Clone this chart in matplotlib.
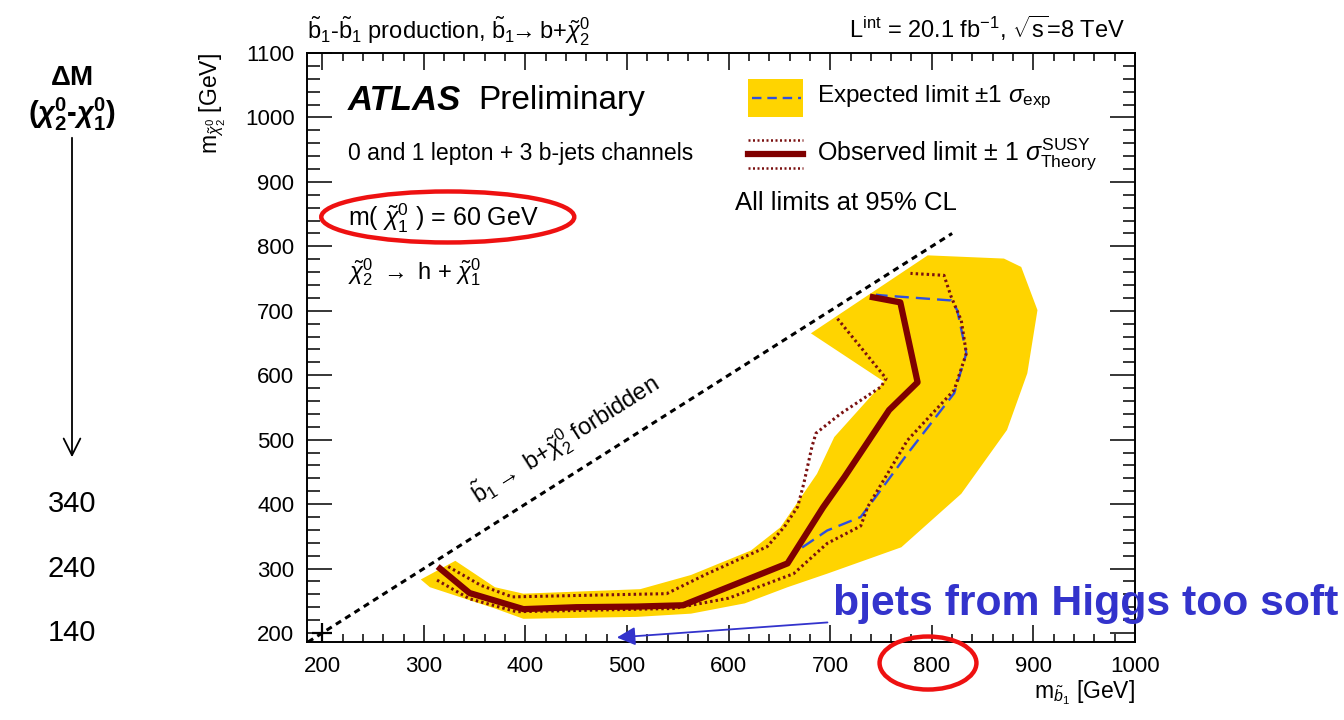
import matplotlib
matplotlib.use("Agg")
import matplotlib.pyplot as plt
from matplotlib.patches import Ellipse, Rectangle, FancyArrowPatch
from matplotlib.lines import Line2D
from matplotlib.ticker import MultipleLocator
import matplotlib.transforms as mtransforms

plt.rcParams['font.family'] = ['Liberation Sans', 'DejaVu Sans']
plt.rcParams['mathtext.fontset'] = 'custom'
plt.rcParams['mathtext.rm'] = 'Liberation Sans'
plt.rcParams['mathtext.it'] = 'Liberation Sans:italic'
plt.rcParams['mathtext.bf'] = 'Liberation Sans:bold'
plt.rcParams['mathtext.bfit'] = 'Liberation Sans:italic:bold'

# m(sbottom), m(chi2) in GeV
# expected +-1 sigma band outline
band_x = [297, 331, 370, 398, 513, 563, 622, 651, 687, 704, 753, 681,
          796, 871, 888, 904, 894, 874, 829, 770, 697, 658, 616, 563,
          510, 398, 370, 306]
band_y = [283, 312, 271, 261, 268, 290, 328, 364, 447, 504, 590, 665,
          786, 781, 768, 701, 603, 515, 416, 333, 292, 271, 246, 230,
          225, 222, 238, 271]

# expected limit
exp_x = [658, 668, 697, 730, 740, 776, 822, 834, 825, 819, 750, 745]
exp_y = [309, 328, 359, 380, 401, 478, 572, 634, 701, 716, 724, 725]

# observed limit
obs_x = [316, 345, 398, 450, 510, 555, 658, 693, 714, 758, 786, 769, 742]
obs_y = [300, 262, 237, 240, 241, 243, 308, 395, 442, 546, 589, 713, 721]

# observed -1 sigma (theory)
obs_dn_x = [324, 356, 387, 475, 539, 579, 638, 655, 668, 674, 682, 686,
            710, 750, 755, 707]
obs_dn_y = [303, 274, 256, 259, 261, 292, 334, 365, 396, 432, 489, 510,
            540, 582, 595, 688]

# observed +1 sigma (theory)
obs_up_x = [313, 345, 391, 546, 600, 664, 697, 730, 737, 776, 822, 834,
            829, 819, 812, 779]
obs_up_y = [282, 253, 233, 238, 254, 292, 339, 366, 396, 499, 577, 634,
            685, 722, 755, 758]

# kinematic boundary m(sbottom) = m(chi2)
diag_x = [186, 820]
diag_y = [186, 820]

m_chi1 = 60
dm_ticks = [400, 300, 200]

fig = plt.figure(figsize=(13.44, 7.2), dpi=100)
ax = fig.add_axes([307 / 1344, 1 - 642 / 720, 828 / 1344, 589 / 720])

ax.fill(band_x, band_y, color='#FFD400', lw=0, zorder=1)
ax.plot(diag_x, diag_y, color='black', lw=2.2, ls=(0, (2, 1.6)), zorder=2)
ax.plot([200], [200], marker='+', color='black', ms=14, mew=1.6, zorder=2)
ax.plot(exp_x, exp_y, color='#2F4FE0', lw=1.7, ls=(0, (6, 3)), zorder=3)
ax.plot(obs_dn_x, obs_dn_y, color='#7A1010', lw=2.2, ls=(0, (0.8, 1)), zorder=3)
ax.plot(obs_up_x, obs_up_y, color='#7A1010', lw=2.2, ls=(0, (0.8, 1)), zorder=3)
ax.plot(obs_x, obs_y, color='#7F0000', lw=4.5, zorder=4)

ax.set_xlim(185, 1000)
ax.set_ylim(186, 1100)
ax.xaxis.set_major_locator(MultipleLocator(100))
ax.xaxis.set_minor_locator(MultipleLocator(20))
ax.yaxis.set_major_locator(MultipleLocator(100))
ax.yaxis.set_minor_locator(MultipleLocator(20))
ax.tick_params(axis='both', which='both', direction='in', top=True, right=True,
               width=1.1, labelsize=16)
ax.tick_params(axis='x', which='major', length=12, pad=10)
ax.tick_params(axis='x', which='minor', length=6)
ax.tick_params(axis='y', which='major', length=18, pad=9)
ax.tick_params(axis='y', which='minor', length=9)
for s in ax.spines.values():
    s.set_linewidth(1.4)

ax.set_xlabel(r'm$_{\tilde{b}_1}$ [GeV]', fontsize=16.5, loc='right')
ax.xaxis.set_label_coords(1.0, -0.062)
ax.set_ylabel(r'm$_{\tilde{\chi}_2^0}$ [GeV]', fontsize=16.5, loc='top')
ax.yaxis.set_label_coords(-0.095, 1.0)

# header texts
fig.text(307 / 1344, 1 - 40 / 720,
         r'$\tilde{\rm b}_1$-$\tilde{\rm b}_1$ production, $\tilde{\rm b}_1\!\!\rightarrow\!\!$ b+$\tilde{\chi}_2^0$',
         fontsize=17, ha='left', va='baseline')
fig.text(1125 / 1344, 1 - 38 / 720,
         r'L$^{\rm int}$ = 20.1 fb$^{-1}$, $\sqrt{\rm s}$=8 TeV',
         fontsize=17, ha='right', va='baseline')

# text inside the frame
ax.text(0.049, 0.92, 'ATLAS', transform=ax.transAxes, fontsize=25,
        fontweight='bold', style='italic', va='center', ha='left')
ax.text(0.2065, 0.92, 'Preliminary', transform=ax.transAxes, fontsize=24,
        va='center', ha='left')
ax.text(0.049, 0.83, '0 and 1 lepton + 3 b-jets channels', transform=ax.transAxes,
        fontsize=16.6, va='center', ha='left')
ax.text(0.049, 0.72, r'm( $\tilde{\chi}_1^0$ ) = %d GeV' % m_chi1, transform=ax.transAxes,
        fontsize=18, va='center', ha='left')
ax.text(0.049, 0.628, r'$\tilde{\chi}_2^0$ $\rightarrow$ h + $\tilde{\chi}_1^0$',
        transform=ax.transAxes, fontsize=17, va='center', ha='left')
ax.add_patch(Ellipse((0.170, 0.7216), 0.3056, 0.0866, transform=ax.transAxes,
                     fill=False, ec='#EE1111', lw=3.2, clip_on=False, zorder=6))

ax.text(439, 499, r'$\tilde{\rm b}_1\rightarrow$ b+$\tilde{\chi}_2^0$ forbidden',
        fontsize=17, rotation=32.4, ha='center', va='center', rotation_mode='anchor')

# legend
ax.add_patch(Rectangle((0.533, 0.891), 0.066, 0.065, transform=ax.transAxes,
                       color='#FFD400', lw=0, zorder=5))
ax.add_line(Line2D([0.537, 0.597], [0.924, 0.924], transform=ax.transAxes,
                   color='#2F4FE0', lw=1.7, ls=(0, (4, 2.5)), zorder=6))
ax.text(0.616, 0.925, r'Expected limit $\pm$1 $\sigma_{\rm exp}$', transform=ax.transAxes,
        fontsize=17.5, va='center', ha='left')
for yy in (0.852, 0.805):
    ax.add_line(Line2D([0.533, 0.599], [yy, yy], transform=ax.transAxes,
                       color='#7A1010', lw=1.8, ls=(0, (0.8, 1)), zorder=6))
ax.add_line(Line2D([0.533, 0.599], [0.829, 0.829], transform=ax.transAxes,
                   color='#7F0000', lw=4.5, zorder=6))
ax.text(0.616, 0.829, r'Observed limit $\pm$ 1 $\sigma^{\rm SUSY}_{\rm Theory}$',
        transform=ax.transAxes, fontsize=18, va='center', ha='left')
ax.text(0.517, 0.745, 'All limits at 95% CL', transform=ax.transAxes,
        fontsize=18.5, va='center', ha='left')

# Delta M scale on the left
fig.text(72 / 1344, 1 - 78 / 720, r'$\mathbf{\Delta}$M', fontsize=20,
         fontweight='bold', ha='center', va='center')
fig.text(72 / 1344, 1 - 114 / 720,
         r'($\mathbfit{\chi}_\mathbf{2}^\mathbf{0}$-$\mathbfit{\chi}_\mathbf{1}^\mathbf{0}$)',
         fontsize=21, fontweight='bold', ha='center', va='center')
fig.add_artist(FancyArrowPatch(
    (72 / 1344, 1 - 135 / 720), (72 / 1344, 1 - 460 / 720),
    transform=fig.transFigure, arrowstyle='->', mutation_scale=30,
    color='black', lw=1.3))
trans = mtransforms.blended_transform_factory(fig.transFigure, ax.transData)
for m in dm_ticks:
    ax.text(72 / 1344, m, str(m - m_chi1), transform=trans, fontsize=21,
            ha='center', va='center', clip_on=False)

# annotation below the band
ax.annotate('bjets from Higgs too soft', xy=(490, 193), xycoords='data',
            xytext=(833 / 1344, 1 - 604 / 720), textcoords='figure fraction',
            fontsize=30.8, fontweight='bold', color='#3333CC', ha='left', va='center',
            arrowprops=dict(arrowstyle='-|>', color='#3333CC', lw=1.3,
                            mutation_scale=28, shrinkA=2, shrinkB=0),
            zorder=7, annotation_clip=False)

ax.add_patch(Ellipse((0.75, -0.0357), 0.117, 0.09, transform=ax.transAxes,
                     fill=False, ec='#EE1111', lw=3.2, clip_on=False, zorder=6))

fig.savefig('out.png', dpi=100)
